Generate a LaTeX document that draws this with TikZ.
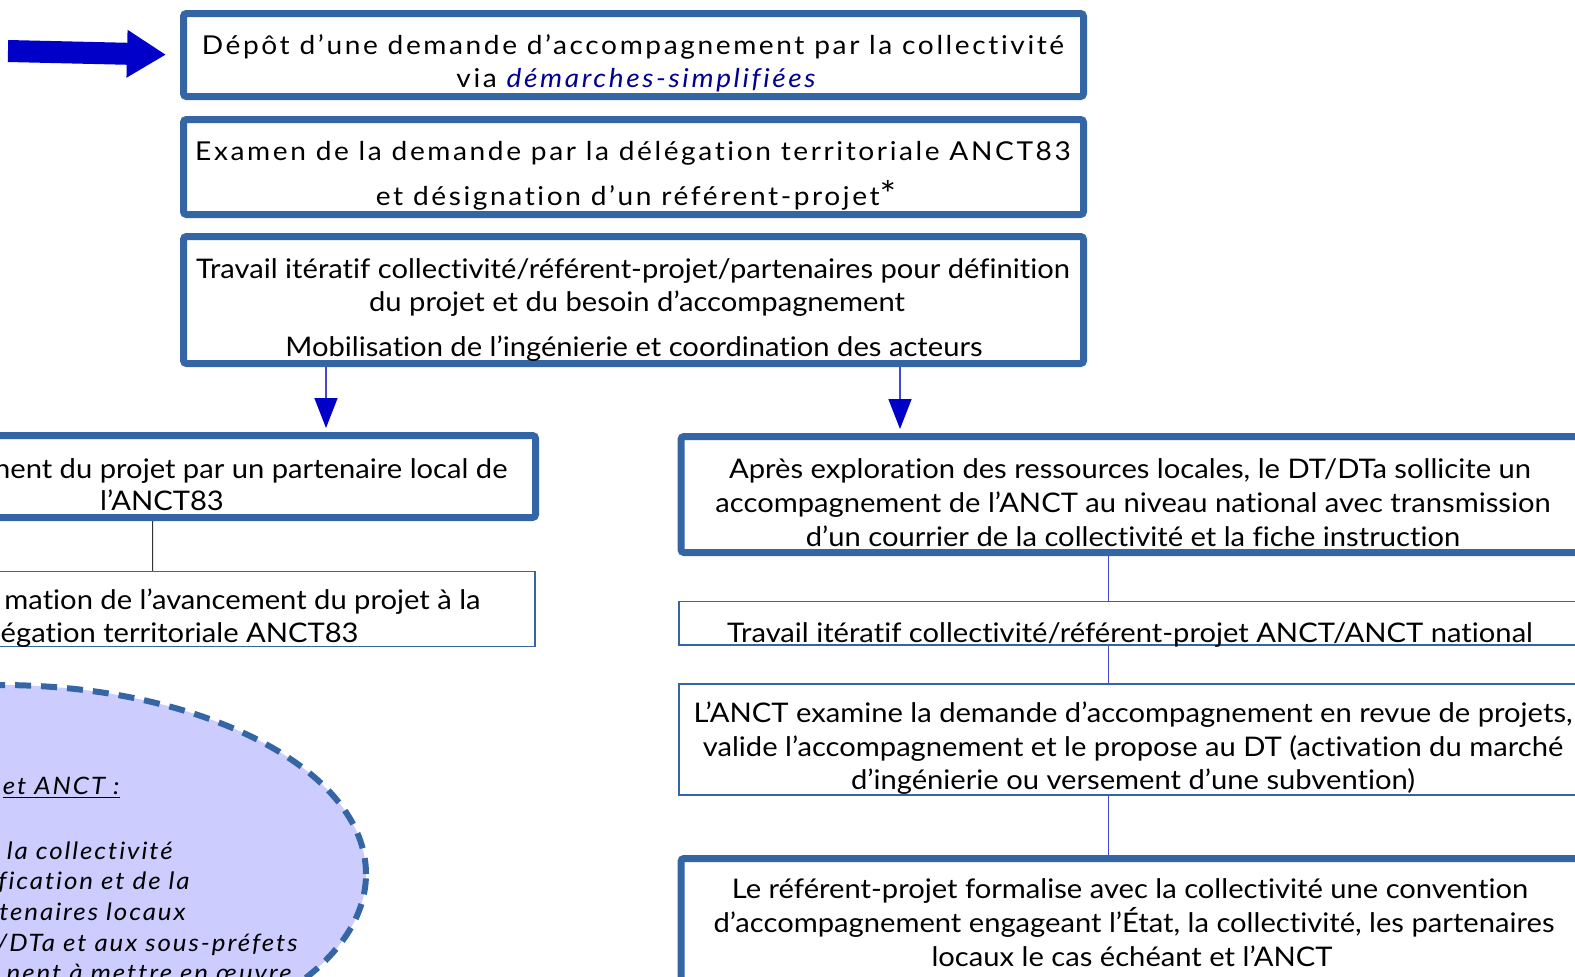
\documentclass[tikz,border=0pt]{standalone}
\usepackage{fontspec}
\defaultfontfeatures{Ligatures=NoCommon}
\setmainfont[FakeStretch=1.08]{Lato}
\newfontfamily\spacedfont[FakeStretch=1.08,LetterSpace=10]{Lato}
\newfontfamily\ellfont[FakeStretch=1.08,LetterSpace=8]{Lato}
\usetikzlibrary{arrows.meta,shapes.geometric}
\definecolor{boxblue}{RGB}{52,102,166}
\definecolor{arrblue}{RGB}{0,0,200}
\definecolor{linkblue}{RGB}{70,70,210}
\definecolor{ellfill}{RGB}{204,204,255}
\definecolor{dsfr}{RGB}{0,0,145}
\begin{document}
\begin{tikzpicture}[x=0.5pt,y=-0.5pt,
  thickbox/.style={draw=boxblue,line width=3.5pt,rounded corners=1.5pt,fill=white,inner sep=0pt},
  thinbox/.style={draw=boxblue,line width=0.7pt,fill=white,inner sep=0pt},
  txt/.style={inner sep=0pt,anchor=base,font=\fontsize{13.5}{16}\selectfont},
  txtr/.style={txt,anchor=base east},
  stxt/.style={inner sep=0pt,anchor=base,font=\fontsize{13}{15}\spacedfont},
  etxt/.style={inner sep=0pt,anchor=base east,font=\fontsize{12}{15}\ellfont\itshape},
  downarrow/.style={draw=linkblue,line width=0.75pt,-{Triangle[width=11.5pt,length=15pt,color=arrblue]},shorten >=2pt},
  link/.style={draw=linkblue,line width=0.5pt},
  blink/.style={draw=black!80,line width=0.5pt},
  bigarrow/.style={draw=arrblue,line width=11pt,-{Triangle[width=22.5pt,length=19.5pt]},shorten >=7pt}
]
\useasboundingbox (0,0) rectangle (1575,976);
\clip (0,0) rectangle (1575,976);

% boxes
\node[thickbox,minimum width=450pt,minimum height=41.5pt] (b1) at (633.5,55) {};
\node[thickbox,minimum width=450pt,minimum height=47.5pt] (b2) at (633.5,167) {};
\node[thickbox,minimum width=450pt,minimum height=63.5pt] (b3) at (633.5,300) {};
\node[thickbox,minimum width=382.75pt,minimum height=41pt] (b4) at (152.75,476.5) {};
\node[thinbox,minimum width=382.5pt,minimum height=37.5pt] (b5) at (152.5,609) {};
\node[thickbox,minimum width=452pt,minimum height=58pt] (b6) at (1133,494.5) {};
\node[thinbox,minimum width=453pt,minimum height=21.75pt] (b7) at (1132,623.25) {};
\node[thinbox,minimum width=453pt,minimum height=55.5pt] (b8) at (1132,739.5) {};
\node[thickbox,minimum width=452pt,minimum height=70.75pt] (b9) at (1133,929.25) {};

% ellipse
\node[ellipse,draw=boxblue,fill=ellfill,line width=3pt,dash pattern=on 8pt off 5pt,
  minimum width=366pt,minimum height=378pt/2,inner sep=0pt] (ell) at (0,874) {};

% connectors
\coordinate (start) at (8,51);
\coordinate (cl) at (326,0);
\coordinate (cr) at (900,0);
\coordinate (cv) at (1108,0);
\draw[bigarrow] (start) -- (b1.west);
\draw[downarrow] (b3.south -| cl) -- (b4.north -| cl);
\draw[downarrow] (b3.south -| cr) -- (b6.north -| cr);
\draw[blink] (b4.south) -- (b5.north);
\draw[link] (b6.south -| cv) -- (b7.north -| cv);
\draw[link] (b7.south -| cv) -- (b8.north -| cv);
\draw[link] (b8.south -| cv) -- (b9.north -| cv);

% texts
\node[stxt] (t1a) at (633,54) {Dépôt d’une demande d’accompagnement par la collectivité};
\node[stxt] (t1b) at (636,87) {via \textcolor{dsfr}{\itshape démarches-simplifiées}};
\node[stxt] (t2a) at (633,160) {Examen de la demande par la délégation territoriale ANCT83};
\node[stxt] (t2b) at (636,205) {et désignation d’un référent-projet{\fontsize{18}{18}\selectfont\raisebox{-1pt}{*}}};
\node[txt] (t3a) at (633,278) {Travail itératif collectivité/référent-projet/partenaires pour définition};
\node[txt] (t3b) at (637,311) {du projet et du besoin d’accompagnement};
\node[txt] (t3c) at (634,356) {Mobilisation de l’ingénierie et coordination des acteurs};

\node[txtr] (t4a) at (508,478) {nent du projet par un partenaire local de};
\node[txt] (t4b) at (162,510) {l’ANCT83};
\node[txtr] (t5a) at (481,609) {mation de l’avancement du projet à la};
\node[txtr] (t5b) at (359,642) {légation territoriale ANCT83};

\node[txt] (t6a) at (1130,478) {Après exploration des ressources locales, le DT/DTa sollicite un};
\node[txt] (t6b) at (1133,512) {accompagnement de l’ANCT au niveau national avec transmission};
\node[txt] (t6c) at (1133,546) {d’un courrier de la collectivité et la fiche instruction};
\node[txt] (t7a) at (1130,642) {Travail itératif collectivité/référent-projet ANCT/ANCT national};
\node[txt] (t8a) at (1133,722) {L’ANCT examine la demande d’accompagnement en revue de projets,};
\node[txt] (t8b) at (1133,756) {valide l’accompagnement et le propose au DT (activation du marché};
\node[txt] (t8c) at (1133,789) {d’ingénierie ou versement d’une subvention)};
\node[txt] (t9a) at (1130,898) {Le référent-projet formalise avec la collectivité une convention};
\node[txt] (t9b) at (1134,932) {d’accompagnement engageant l’État, la collectivité, les partenaires};
\node[txt] (t9c) at (1132,966) {locaux le cas échéant et l’ANCT};

\node[etxt] (e1) at (120,794) {\underline{et ANCT :}};
\node[etxt] (e2) at (173,859) {la collectivité};
\node[etxt] (e3) at (190,889) {fication et de la};
\node[etxt] (e4) at (186,920) {tenaires locaux};
\node[etxt] (e5) at (298,951) {/DTa et aux sous-préfets};
\node[etxt] (e6) at (292,981) {nent à mettre en œuvre};
\end{tikzpicture}
\end{document}
